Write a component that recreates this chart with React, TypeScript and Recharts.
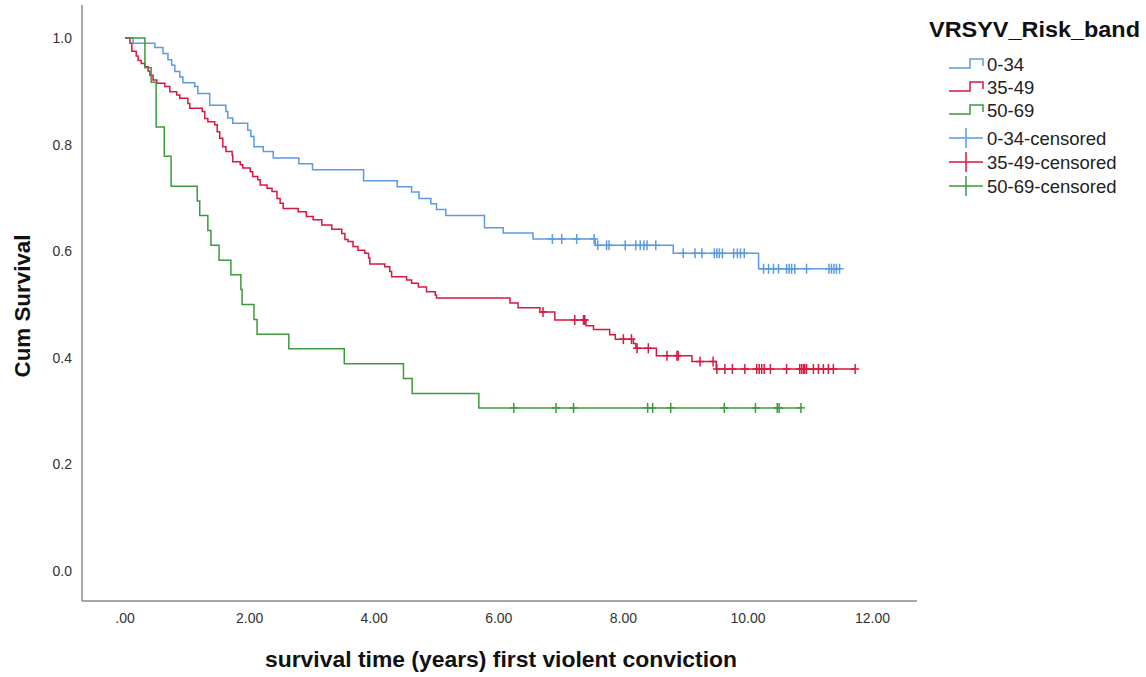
import { ComposedChart, Line, Scatter, XAxis, YAxis } from 'recharts'

const FONT = '"Liberation Sans", Arial, sans-serif'

const BLUE = '#5b9be4'
const RED = '#d8193f'
const GREEN = '#3c9a3c'

const xTicks = [0, 2, 4, 6, 8, 10, 12]
const yTicks = [0, 0.2, 0.4, 0.6, 0.8, 1.0]

// [time in years, cumulative survival] at each event
const lowSteps: [number, number][] = [
  [0, 1.0], [0.13, 0.99], [0.48, 0.982], [0.61, 0.971], [0.69, 0.959], [0.75, 0.949],
  [0.8, 0.937], [0.88, 0.927], [0.93, 0.916], [1.12, 0.909], [1.17, 0.896], [1.36, 0.874],
  [1.62, 0.862], [1.65, 0.85], [1.73, 0.84], [1.97, 0.827], [2.02, 0.815], [2.07, 0.796],
  [2.22, 0.787], [2.38, 0.775], [2.79, 0.764], [3.01, 0.753], [3.83, 0.732], [4.37, 0.721],
  [4.6, 0.711], [4.72, 0.699], [4.91, 0.689], [5.0, 0.678], [5.15, 0.667], [5.77, 0.644],
  [6.07, 0.634], [6.55, 0.623], [7.55, 0.611], [8.8, 0.596], [10.17, 0.567],
]
const lowCensored = [
  6.86, 7.01, 7.25, 7.53, 7.59, 7.73, 7.77, 8.03, 8.2, 8.27, 8.33, 8.38, 8.52, 8.96, 9.15,
  9.26, 9.46, 9.5, 9.54, 9.59, 9.77, 9.83, 9.88, 9.94, 10.25, 10.33, 10.41, 10.49, 10.62,
  10.66, 10.7, 10.75, 10.94, 11.3, 11.34, 11.38, 11.42, 11.47,
]

const midSteps: [number, number][] = [
  [0, 1.0], [0.08, 0.99], [0.11, 0.975], [0.18, 0.966], [0.21, 0.958], [0.26, 0.952],
  [0.32, 0.946], [0.37, 0.938], [0.4, 0.93], [0.45, 0.921], [0.51, 0.915], [0.64, 0.909],
  [0.72, 0.899], [0.83, 0.893], [0.88, 0.887], [1.01, 0.877], [1.04, 0.868], [1.24, 0.862],
  [1.28, 0.849], [1.33, 0.843], [1.44, 0.837], [1.48, 0.824], [1.52, 0.812], [1.57, 0.796],
  [1.62, 0.787], [1.72, 0.78], [1.73, 0.768], [1.85, 0.762], [1.89, 0.756], [2.01, 0.749],
  [2.05, 0.74], [2.13, 0.734], [2.17, 0.724], [2.28, 0.718], [2.36, 0.712], [2.44, 0.699],
  [2.49, 0.69], [2.54, 0.68], [2.78, 0.674], [2.91, 0.665], [3.02, 0.659], [3.16, 0.649],
  [3.32, 0.641], [3.48, 0.633], [3.53, 0.622], [3.58, 0.618], [3.66, 0.609], [3.74, 0.602],
  [3.85, 0.596], [3.91, 0.587], [3.93, 0.576], [4.17, 0.571], [4.25, 0.562], [4.28, 0.552],
  [4.52, 0.546], [4.6, 0.54], [4.71, 0.533], [4.84, 0.524], [4.98, 0.518], [5.0, 0.512],
  [6.18, 0.503], [6.31, 0.494], [6.66, 0.486], [6.9, 0.471], [7.4, 0.46], [7.52, 0.453],
  [7.78, 0.443], [7.87, 0.435], [8.16, 0.427], [8.2, 0.418], [8.53, 0.404], [9.1, 0.393],
  [9.49, 0.379],
]
const midCensored = [
  6.71, 7.22, 7.36, 7.38, 8.0, 8.13, 8.22, 8.4, 8.7, 8.86, 8.88, 9.23, 9.44, 9.5, 9.63,
  9.75, 9.95, 10.14, 10.18, 10.22, 10.26, 10.36, 10.62, 10.83, 10.86, 10.89, 10.91, 10.94,
  11.05, 11.13, 11.21, 11.29, 11.37, 11.72,
]

const highSteps: [number, number][] = [
  [0, 1.0], [0.32, 0.944], [0.42, 0.917], [0.5, 0.833], [0.63, 0.778], [0.74, 0.722],
  [1.16, 0.694], [1.2, 0.667], [1.33, 0.639], [1.38, 0.611], [1.51, 0.583], [1.7, 0.556],
  [1.86, 0.528], [1.88, 0.5], [2.07, 0.472], [2.12, 0.444], [2.63, 0.417], [3.52, 0.389],
  [4.47, 0.361], [4.61, 0.333], [5.68, 0.306],
]
const highCensored = [6.24, 6.92, 7.2, 8.39, 8.47, 8.76, 9.62, 10.12, 10.47, 10.5, 10.85]

function survivalAt(steps: [number, number][], t: number) {
  let s = steps[0][1]
  for (const [st, sv] of steps) if (st <= t) s = sv
  return s
}

function curve(steps: [number, number][], censored: number[]) {
  const end = censored[censored.length - 1]
  const pts = steps.map(([t, s]) => ({ t, s }))
  pts.push({ t: end, s: survivalAt(steps, end) })
  return pts
}

function marks(steps: [number, number][], censored: number[]) {
  return censored.map((t) => ({ t, s: survivalAt(steps, t) }))
}

function plus(color: string) {
  return (props: any) => {
    const { cx, cy } = props
    return (
      <g stroke={color} strokeWidth={1.5}>
        <line x1={cx} y1={cy - 5} x2={cx} y2={cy + 5} />
        <line x1={cx - 4} y1={cy} x2={cx + 4} y2={cy} />
      </g>
    )
  }
}

const series = [
  { name: '0-34', color: BLUE, steps: lowSteps, censored: lowCensored },
  { name: '35-49', color: RED, steps: midSteps, censored: midCensored },
  { name: '50-69', color: GREEN, steps: highSteps, censored: highCensored },
]

const tickStyle = { fill: '#333', fontSize: 14, fontFamily: FONT }

export default function App() {
  return (
    <div style={{ position: 'absolute', left: 0, top: 0, width: 1146, height: 677, background: '#fff' }}>
      <ComposedChart width={1146} height={677} margin={{ top: 5, right: 229, bottom: 0, left: 0 }}>
        <XAxis
          dataKey="t"
          type="number"
          domain={[-0.69, 12.713]}
          ticks={xTicks}
          tickFormatter={(v: number) => (v === 0 ? '.00' : v.toFixed(2))}
          tick={tickStyle}
          tickLine={false}
          tickSize={0}
          tickMargin={12}
          height={76}
          axisLine={{ stroke: '#8a8a8a', strokeWidth: 1.5 }}
          allowDataOverflow
        />
        <YAxis
          dataKey="s"
          type="number"
          domain={[-0.0563, 1.0619]}
          ticks={yTicks}
          tickFormatter={(v: number) => v.toFixed(1)}
          tick={tickStyle}
          tickLine={false}
          tickSize={0}
          tickMargin={10}
          width={82}
          axisLine={{ stroke: '#8a8a8a', strokeWidth: 1.5 }}
          allowDataOverflow
        />
        {series.map((sr) => (
          <Line
            key={sr.name}
            data={curve(sr.steps, sr.censored)}
            dataKey="s"
            type="stepAfter"
            stroke={sr.color}
            strokeWidth={1.5}
            dot={false}
            activeDot={false}
            isAnimationActive={false}
          />
        ))}
        {series.map((sr) => (
          <Scatter
            key={sr.name + '-c'}
            data={marks(sr.steps, sr.censored)}
            dataKey="s"
            shape={plus(sr.color)}
            isAnimationActive={false}
          />
        ))}
      </ComposedChart>
      <svg width={1146} height={677} style={{ position: 'absolute', left: 0, top: 0, pointerEvents: 'none' }}>
        <text
          transform="translate(30,306) rotate(-90)"
          textAnchor="middle"
          fontFamily={FONT}
          fontWeight="bold"
          fontSize={22}
          textLength={143}
          lengthAdjust="spacingAndGlyphs"
          fill="#111"
        >
          Cum Survival
        </text>
        <text
          x={501}
          y={667}
          textAnchor="middle"
          fontFamily={FONT}
          fontWeight="bold"
          fontSize={22}
          textLength={472}
          lengthAdjust="spacingAndGlyphs"
          fill="#111"
        >
          survival time (years) first violent conviction
        </text>
        <text
          x={929}
          y={37}
          fontFamily={FONT}
          fontWeight="bold"
          fontSize={22}
          textLength={211}
          lengthAdjust="spacingAndGlyphs"
          fill="#111"
        >
          VRSYV_Risk_band
        </text>
        {series.map((sr, i) => {
          const cy = [64, 87, 110][i]
          return (
            <g key={sr.name}>
              <path
                d={`M949,${cy + 4}H970V${cy - 5}H983V${cy + 2}`}
                fill="none"
                stroke={sr.color}
                strokeWidth={1.5}
              />
              <text x={987} y={cy + 6.5} fontFamily={FONT} fontSize={18.5} fill="#222">
                {sr.name}
              </text>
            </g>
          )
        })}
        {series.map((sr, i) => {
          const cy = [138, 162, 186][i]
          return (
            <g key={sr.name + '-c'}>
              <path d={`M949,${cy}H983M966,${cy - 10}V${cy + 10}`} fill="none" stroke={sr.color} strokeWidth={1.5} />
              <text x={987} y={cy + 6.5} fontFamily={FONT} fontSize={18.5} fill="#222">
                {sr.name}-censored
              </text>
            </g>
          )
        })}
      </svg>
    </div>
  )
}
